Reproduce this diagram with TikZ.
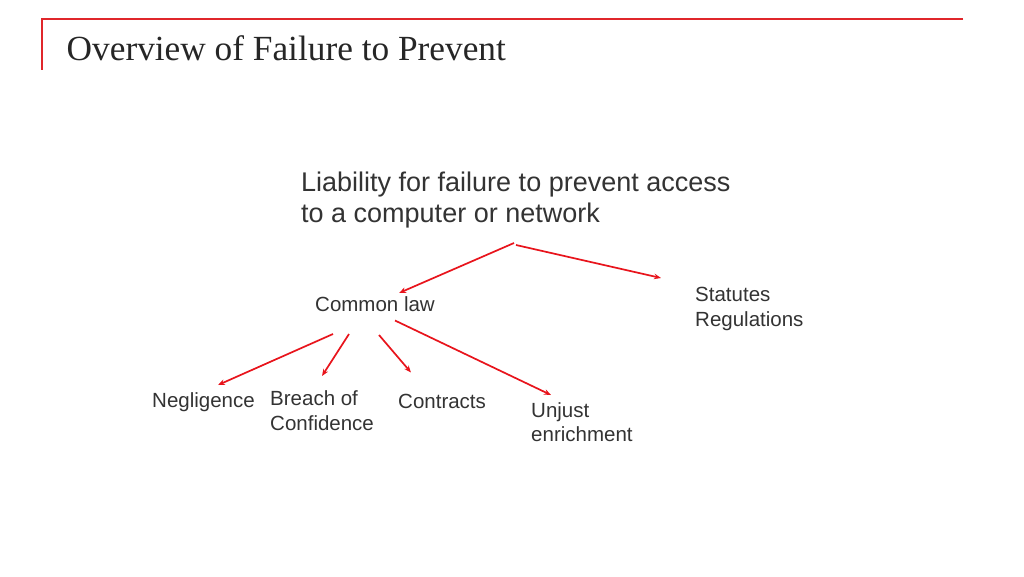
\documentclass[tikz,border=0pt]{standalone}
\usepackage{fontspec}
\setmainfont{Liberation Serif}
\newfontfamily\bodyfont{Liberation Sans}
\usetikzlibrary{arrows.meta}
\definecolor{framered}{HTML}{E0262B}
\definecolor{arrowred}{HTML}{E8141C}
\definecolor{titlecol}{HTML}{262626}
\definecolor{bodycol}{HTML}{333333}
\tikzset{
  lbl/.style={anchor=base west, inner sep=0pt, align=left, text=bodycol,
    font=\bodyfont\fontsize{20.5}{24.5}\selectfont},
  biglbl/.style={lbl, font=\bodyfont\fontsize{27}{31.5}\selectfont},
  link/.style={draw=arrowred, line width=1.7pt,
    -{Stealth[length=7pt,width=5.5pt]}},
}
\begin{document}
\begin{tikzpicture}[x=1pt,y=-1pt]
\useasboundingbox (0,0) rectangle (1024,576);
\fill[white] (0,0) rectangle (1024,576);
\draw[framered, line width=1.3pt] (963,19) -- (42,19) -- (42,70);
\node[anchor=base west, inner sep=0pt, text=titlecol,
  font=\fontsize{35.3}{40}\selectfont] (title) at (66.5,60) {Overview of Failure to Prevent};

\node[biglbl] (lia) at (301,222.5) {Liability for failure to prevent access\\to a computer or network};
\node[lbl] (cl) at (315,311) {Common law};
\node[lbl] (stat) at (695,326) {Statutes\\Regulations};
\node[lbl] (neg) at (152,407) {Negligence};
\node[lbl] (boc) at (270,430) {Breach of\\Confidence};
\node[lbl] (con) at (398,408) {Contracts};
\node[lbl] (une) at (531,441.5) {Unjust\\enrichment};

\coordinate (liaL) at (514,243);
\coordinate (liaR) at (516,245);
\coordinate (clIn) at (399,293);
\coordinate (statIn) at (661,278);
\coordinate (clA) at (333,334);
\coordinate (clB) at (349,334);
\coordinate (clC) at (379,335);
\coordinate (clD) at (395,320.5);
\coordinate (negIn) at (218,385);
\coordinate (bocIn) at (322,376);
\coordinate (conIn) at (411,372.5);
\coordinate (uneIn) at (551,395);

\draw[link] (liaL) -- (clIn);
\draw[link] (liaR) -- (statIn);
\draw[link] (clA) -- (negIn);
\draw[link] (clB) -- (bocIn);
\draw[link] (clC) -- (conIn);
\draw[link] (clD) -- (uneIn);
\end{tikzpicture}
\end{document}
